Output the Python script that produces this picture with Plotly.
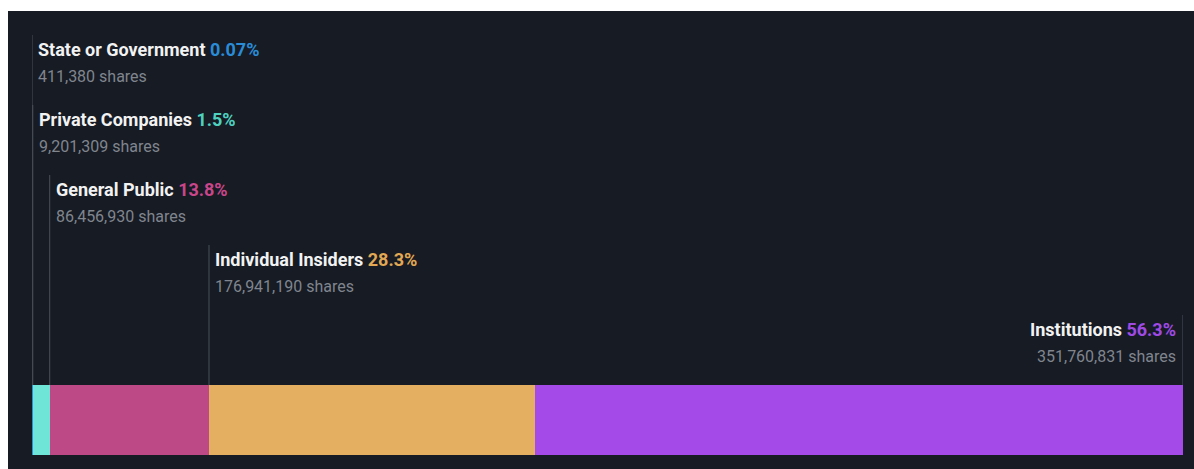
import plotly.graph_objects as go

categories = ["State or Government", "Private Companies", "General Public", "Individual Insiders", "Institutions"]
percent_labels = ["0.07%", "1.5%", "13.8%", "28.3%", "56.3%"]
shares = [411380, 9201309, 86456930, 176941190, 351760831]
bar_colors = ["#2d8fd8", "#6ee5d6", "#bd4a87", "#e5af62", "#a34ae8"]
text_colors = ["#2a8cd6", "#4fd1c0", "#c9468a", "#e2a853", "#a04ae6"]

W, H = 1194, 469
total = sum(shares)
pcts = [s / total * 100 for s in shares]

fig = go.Figure()
for cat, p, c in zip(categories, pcts, bar_colors):
    fig.add_trace(go.Bar(
        x=[p], y=[420], width=[70], orientation="h", name=cat,
        marker=dict(color=c, line=dict(width=0)),
        hoverinfo="skip", showlegend=False,
    ))

shapes = [dict(type="rect", xref="paper", yref="paper", x0=8 / W, x1=1.0, y0=0, y1=1 - 11 / H,
               fillcolor="#161b24", line=dict(width=0), layer="below")]
annotations = []
starts = []
acc = 0.0
for p in pcts:
    starts.append(acc)
    acc += p

for i, cat in enumerate(categories):
    ty = 49 + 70 * i
    last = i == len(categories) - 1
    lx = 100.0 if last else starts[i]
    shapes.append(dict(type="line", xref="x", yref="y", x0=lx, x1=lx, y0=ty - 14, y1=385,
                       line=dict(color="#4b505a", width=1), layer="above"))
    title = f"<b>{cat} <span style='color:{text_colors[i]}'>{percent_labels[i]}</span></b>"
    sub = f"{shares[i]:,} shares"
    common = dict(xref="x", yref="y", x=lx, showarrow=False,
                  xanchor="right" if last else "left", xshift=-5 if last else 4, yanchor="middle")
    annotations.append(dict(text=title, y=ty, font=dict(family="Roboto", size=18, color="#f2f2f2"), **common))
    annotations.append(dict(text=sub, y=ty + 27, font=dict(family="Roboto", size=16, color="#80858e"), **common))

fig.update_layout(
    width=W, height=H, margin=dict(l=0, r=0, t=0, b=0),
    paper_bgcolor="white", plot_bgcolor="rgba(0,0,0,0)",
    barmode="stack", bargap=0,
    xaxis=dict(domain=[32 / W, 1183 / W], range=[0, 100], visible=False, fixedrange=True),
    yaxis=dict(domain=[0, 1], range=[H, 0], visible=False, fixedrange=True),
    shapes=shapes, annotations=annotations,
)
fig.write_html("out.html")
